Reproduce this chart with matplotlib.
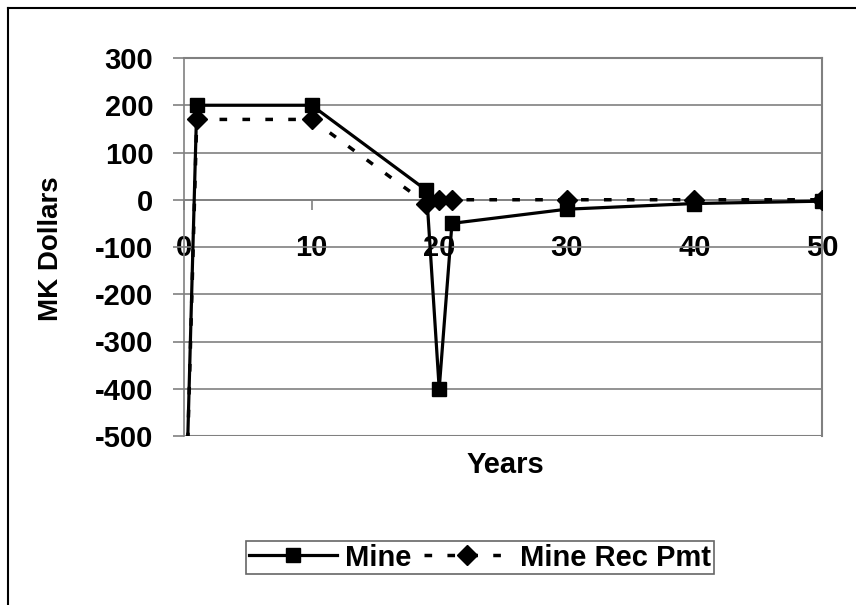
import matplotlib
matplotlib.use("Agg")
import matplotlib.pyplot as plt
from matplotlib.lines import Line2D

plt.rcParams['font.family'] = ['Liberation Sans', 'DejaVu Sans']
plt.rcParams['font.weight'] = 'bold'
plt.rcParams['axes.unicode_minus'] = False

years = [0, 1, 10, 19, 20, 21, 30, 40, 50]
mine = [-800, 200, 200, 20, -400, -50, -20, -8, -3]
mine_rec_pmt = [-800, 170, 170, -8, 0, 0, 0, 0, 0]

x_ticks = [0, 10, 20, 30, 40, 50]
y_ticks = [-500, -400, -300, -200, -100, 0, 100, 200, 300]

W, H = 856, 605
fig = plt.figure(figsize=(W / 100, H / 100), dpi=100)
ax = fig.add_axes([184 / W, 1 - 436 / H, (822 - 184) / W, (436 - 58) / H])

grid_c = '#808080'
ax.plot(years, mine, color='black', lw=2.3, marker='s', markersize=9.5,
        label='Mine', solid_joinstyle='miter', zorder=4)
ax.plot(years, mine_rec_pmt, color='black', lw=2.5, marker='D', markersize=10.3,
        dashes=(2.2, 4.4), dash_capstyle='butt', label='Mine Rec Pmt', zorder=3)

ax.set_xlim(0, 50)
ax.set_ylim(-500, 300)
ax.set_xticks(x_ticks)
ax.set_yticks(y_ticks)
ax.yaxis.grid(True, color=grid_c, lw=1.2)
ax.set_axisbelow(True)

for s in ['top', 'right']:
    ax.spines[s].set_color(grid_c)
    ax.spines[s].set_linewidth(1.5)
ax.spines['left'].set_color(grid_c)
ax.spines['left'].set_linewidth(1.2)
ax.spines['bottom'].set_position(('data', 0))
ax.spines['bottom'].set_color(grid_c)
ax.spines['bottom'].set_linewidth(1.2)
ax.axhline(-500, color=grid_c, lw=1.5, zorder=0)

ax.tick_params(axis='x', direction='out', length=7, width=1.2, color=grid_c,
               labelsize=21, pad=18)
ax.tick_params(axis='y', direction='out', length=8, width=1.2, color=grid_c,
               labelsize=21, pad=14)
for lab in ax.get_xticklabels() + ax.get_yticklabels():
    lab.set_fontweight('bold')

fig.text(51 / W, 1 - 249 / H, 'MK Dollars', rotation=90, ha='center', va='center',
         fontsize=20, fontweight='bold')
fig.text(505 / W, 1 - 465 / H, 'Years', ha='center', va='center',
         fontsize=21, fontweight='bold')

leg = ax.legend(loc='center', bbox_to_anchor=(480 / W, 1 - 557.5 / H),
                bbox_transform=fig.transFigure, ncol=2, frameon=True,
                fancybox=False, edgecolor='#404040', handlelength=3.0,
                columnspacing=0.4, handletextpad=0.3, borderpad=0.1,
                borderaxespad=0, prop={'size': 21, 'weight': 'bold'})
leg.get_frame().set_linewidth(1.2)

fig.add_artist(Line2D([8 / W, 8 / W], [0, 1 - 8 / H], transform=fig.transFigure,
                      color='black', lw=1.5))
fig.add_artist(Line2D([8 / W, 1], [1 - 8 / H, 1 - 8 / H], transform=fig.transFigure,
                      color='black', lw=1.5))

fig.savefig('out.png', dpi=100)
